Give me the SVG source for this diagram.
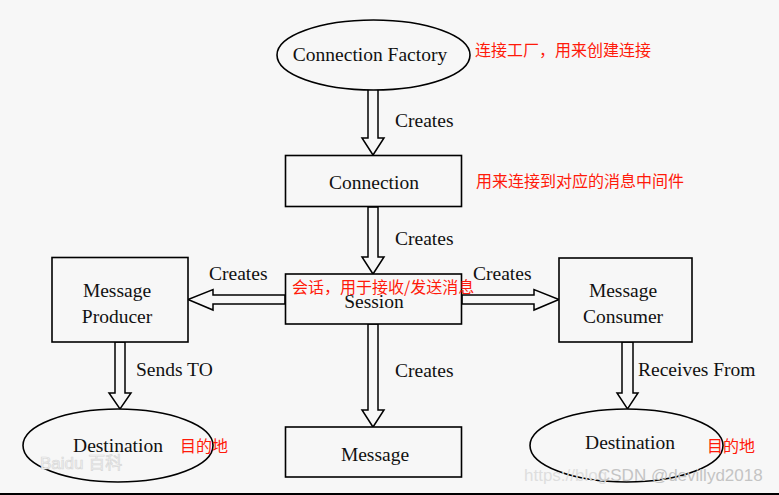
<svg xmlns="http://www.w3.org/2000/svg" width="779" height="495" viewBox="0 0 779 495">
<style>
.bg{fill:#f7f7f7}
.shape{fill:#f7f7f7;stroke:#000;stroke-width:1.6}
.arr{fill:#f7f7f7;stroke:#000;stroke-width:1.5;stroke-linejoin:miter}
.t{font-family:"Liberation Serif","Times New Roman",serif;font-size:19.5px;fill:#111}
.c{text-anchor:middle}
.r{font-family:"Noto Sans CJK SC","Noto Sans",sans-serif;font-size:16px;fill:#ff1a0a}
.wm{font-family:"Liberation Sans","Noto Sans CJK SC",sans-serif;font-size:17px}
</style>
<rect class="bg" x="0" y="0" width="779" height="495"/>
<g id="connectors">
  <polygon class="arr" points="368,86 378,86 378,138 384,138 373,155 362,138 368,138"/>
  <polygon class="arr" points="368,207 378,207 378,257 384,257 373,274 362,257 368,257"/>
  <polygon class="arr" points="368,324 378,324 378,410 384,410 373,427 362,410 368,410"/>
  <polygon class="arr" points="285,295 213,295 213,289.5 188,299.5 213,310 213,304 285,304"/>
  <polygon class="arr" points="462,295 534,295 534,289.5 559,299.5 534,310 534,304 462,304"/>
  <polygon class="arr" points="115,342 125,342 125,393 131,393 120,409 109,393 115,393"/>
  <polygon class="arr" points="622,342 633,342 633,393 638,393 627.5,409 617,393 622,393"/>
  <text class="t" x="395" y="127">Creates</text>
  <text class="t" x="395" y="245">Creates</text>
  <text class="t" x="395" y="377">Creates</text>
  <text class="t" x="209" y="280">Creates</text>
  <text class="t" x="473" y="280">Creates</text>
  <text class="t" x="136" y="376">Sends TO</text>
  <text class="t" x="638" y="376">Receives From</text>
</g>
<g id="factory">
  <ellipse class="shape" cx="373.5" cy="55" rx="96.5" ry="35"/>
  <text class="t c" x="370" y="61">Connection Factory</text>
  <text class="r" x="475" y="56">连接工厂，用来创建连接</text>
</g>
<g id="connection">
  <rect class="shape" x="285.5" y="155.5" width="176" height="51"/>
  <text class="t c" x="374" y="189">Connection</text>
  <text class="r" x="476" y="187">用来连接到对应的消息中间件</text>
</g>
<g id="session">
  <rect class="shape" x="285.5" y="274" width="176" height="50"/>
  <text class="t c" x="374" y="308">Session</text>
  <text class="r" x="292" y="293">会话，用于接收/发送消息</text>
</g>
<g id="producer">
  <rect class="shape" x="52" y="257.5" width="136" height="84.5"/>
  <text class="t c" x="117" y="297">Message</text>
  <text class="t c" x="117" y="323">Producer</text>
</g>
<g id="consumer">
  <rect class="shape" x="559" y="258" width="133" height="84"/>
  <text class="t c" x="623" y="297">Message</text>
  <text class="t c" x="623" y="323">Consumer</text>
</g>
<g id="message">
  <rect class="shape" x="285.5" y="427" width="176" height="50"/>
  <text class="t c" x="375" y="461">Message</text>
</g>
<g id="destination-left">
  <ellipse class="shape" cx="118" cy="445.5" rx="95" ry="36.5"/>
  <text class="t c" x="118" y="452">Destination</text>
  <text class="r" x="180" y="452">目的地</text>
</g>
<g id="destination-right">
  <ellipse class="shape" cx="626.5" cy="445.5" rx="96.5" ry="36.5"/>
  <text class="t c" x="630" y="449">Destination</text>
  <text class="r" x="707" y="452">目的地</text>
</g>
<g id="watermarks">
  <text class="wm" x="40" y="469" fill="#f4f4f4" stroke="#d8d8d8" stroke-width="0.7">Baidu 百科</text>
  <text class="wm" x="524" y="481" fill="#dedede">https://blog</text>
  <text class="wm" x="598" y="481" fill="#c4c4c4">CSDN @devillyd2018</text>
</g>
<rect x="0" y="493" width="779" height="2" fill="#000"/>
</svg>
